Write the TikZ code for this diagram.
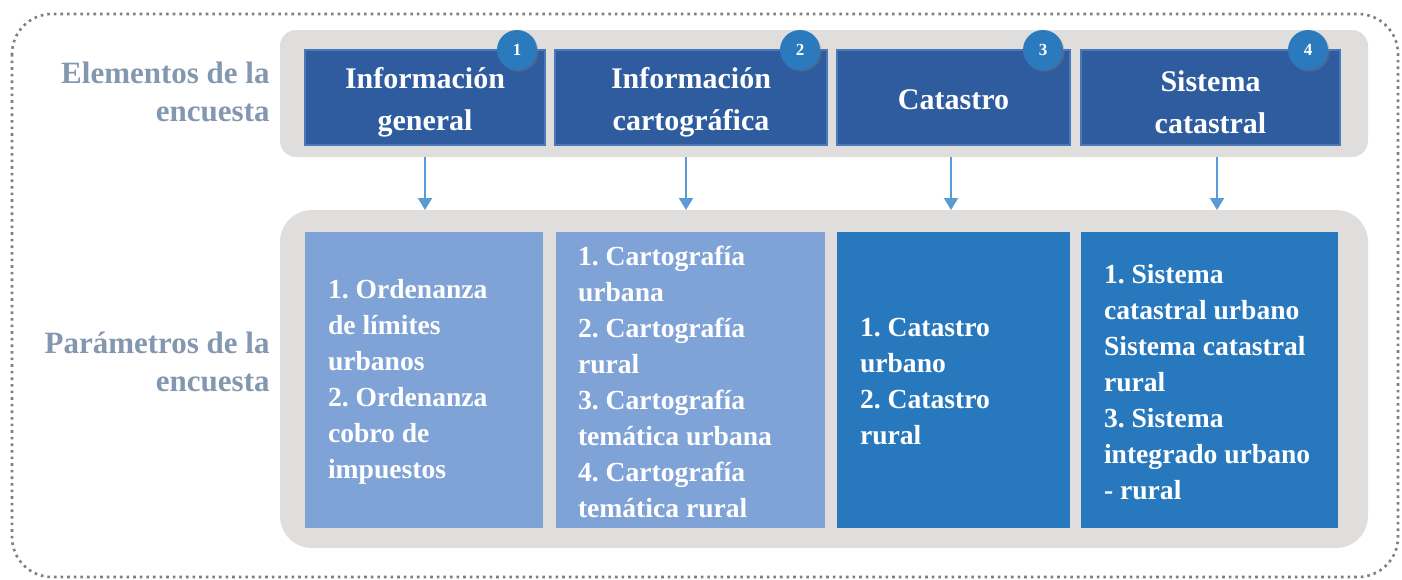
\documentclass[tikz,border=0pt]{standalone}
\usepackage{fontspec}
\setmainfont{Liberation Serif}
\usetikzlibrary{arrows.meta,shadows,positioning}
\definecolor{hdrblue}{HTML}{2E5C9E}
\definecolor{hdredge}{HTML}{4A78B8}
\definecolor{circblue}{HTML}{2A7ABD}
\definecolor{lightbox}{HTML}{7FA3D6}
\definecolor{darkbox}{HTML}{2878BD}
\definecolor{bandgray}{HTML}{DFDEDD}
\definecolor{labelgray}{HTML}{8497B0}
\definecolor{arrowblue}{HTML}{5B9BD5}
\definecolor{dotgray}{HTML}{7F7F7F}
\frenchspacing
\begin{document}
\begin{tikzpicture}[x=0.5pt,y=-0.5pt,
  band/.style={fill=bandgray,draw=none},
  hdrbox/.style={fill=hdrblue,draw=hdredge,line width=0.6pt,inner sep=0pt,minimum height=47.5pt},
  hdrtext/.style={text=white,font=\bfseries\fontsize{15}{21}\selectfont,align=center,inner sep=0pt},
  numcirc/.style={circle,fill=circblue,draw=none,minimum size=20pt,inner sep=0pt,text=white,font=\bfseries\fontsize{8.5}{10}\selectfont,drop shadow={opacity=0.35,shadow xshift=0.8pt,shadow yshift=-0.8pt}},
  parbox/.style={draw=none,inner sep=0pt,minimum height=148pt},
  partext/.style={text=white,font=\bfseries\fontsize{13.8}{18}\selectfont,align=left,inner sep=0pt,anchor=west},
  sidelabel/.style={text=labelgray,font=\bfseries\fontsize{15.5}{19}\selectfont,align=right,inner sep=0pt,anchor=east},
  conn/.style={draw=arrowblue,line width=1pt,-{Triangle[width=7pt,length=6pt]}}
]
\useasboundingbox (0,0) rectangle (1402,579);
% outer dotted frame
\draw[dotgray,line width=1.3pt,dotted,rounded corners=20pt] (12,14) rectangle (1398,577);
% bands
\path[band,rounded corners=8pt] (280,30) rectangle (1368,157);
\coordinate (topband) at (824,157);
\path[band,rounded corners=16pt] (280,210) rectangle (1368,548);
\coordinate (botband) at (824,210);
% header boxes
\node[hdrbox,minimum width=120pt] (h1) at (425,97.5) {};
\node[hdrbox,minimum width=136pt] (h2) at (691,97.5) {};
\node[hdrbox,minimum width=116.5pt] (h3) at (953.5,97.5) {};
\node[hdrbox,minimum width=129.5pt] (h4) at (1210.5,97.5) {};
\node[hdrtext] (ht1) at ([yshift=-2.5pt]h1.center) {Información\\general};
\node[hdrtext] (ht2) at ([yshift=-2.5pt]h2.center) {Información\\cartográfica};
\node[hdrtext] (ht3) at ([yshift=-1pt]h3.center) {Catastro};
\node[hdrtext] (ht4) at ([yshift=-2.5pt]h4.center) {Sistema\\catastral};
% number circles
\node[numcirc] (c1) at (517,50) {1};
\node[numcirc] (c2) at (800,50) {2};
\node[numcirc] (c3) at (1043,50) {3};
\node[numcirc] (c4) at (1308,50) {4};
% parameter boxes
\node[parbox,fill=lightbox,minimum width=119pt] (p1) at (424,380) {};
\node[parbox,fill=lightbox,minimum width=134.5pt] (p2) at (690.5,380) {};
\node[parbox,fill=darkbox,minimum width=116.5pt] (p3) at (953.5,380) {};
\node[parbox,fill=darkbox,minimum width=128.5pt] (p4) at (1209.5,380) {};
\node[partext] (t1) at ([xshift=11.5pt,yshift=-1pt]p1.west) {1. Ordenanza\\de límites\\urbanos\\2. Ordenanza\\cobro de\\impuestos};
\node[partext] (t2) at ([xshift=11pt,yshift=-1pt]p2.west) {1. Cartografía\\urbana\\2. Cartografía\\rural\\3. Cartografía\\temática urbana\\4. Cartografía\\temática rural};
\node[partext] (t3) at ([xshift=11.5pt,yshift=-1pt]p3.west) {1. Catastro\\urbano\\2. Catastro\\rural};
\node[partext] (t4) at ([xshift=11.5pt,yshift=-1pt]p4.west) {1. Sistema\\catastral urbano\\Sistema catastral\\rural\\3. Sistema\\integrado urbano\\- rural};
% side labels
\node[sidelabel] (l1) at (270,92) {Elementos de la\\encuesta};
\node[sidelabel] (l2) at (270,362) {Parámetros de la\\encuesta};
% connectors
\draw[conn] (h1.south |- topband) -- (h1.south |- botband);
\draw[conn] ([xshift=-2.5pt]h2.south |- topband) -- ([xshift=-2.5pt]h2.south |- botband);
\draw[conn] ([xshift=-1.25pt]h3.south |- topband) -- ([xshift=-1.25pt]h3.south |- botband);
\draw[conn] ([xshift=3.25pt]h4.south |- topband) -- ([xshift=3.25pt]h4.south |- botband);
\end{tikzpicture}
\end{document}
